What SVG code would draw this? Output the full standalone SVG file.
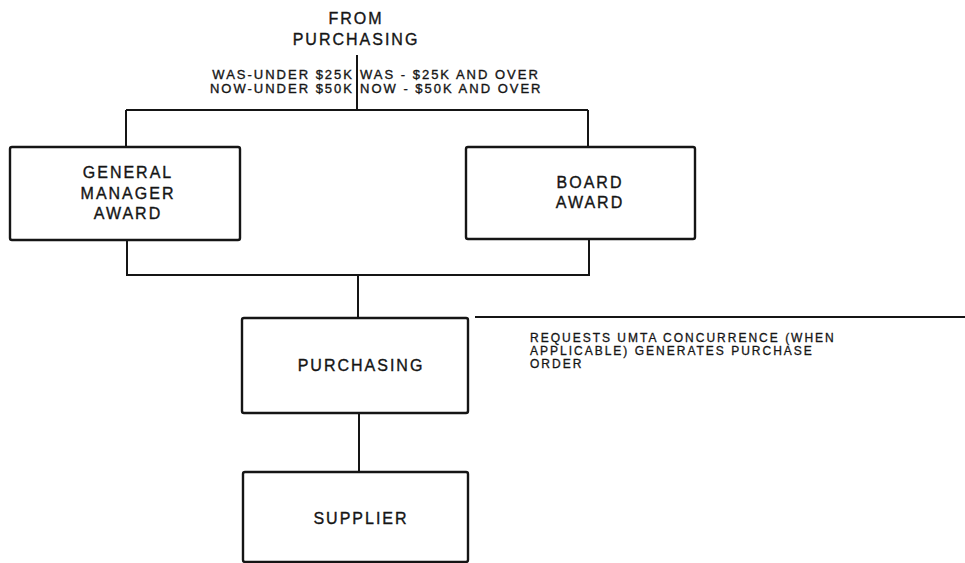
<svg xmlns="http://www.w3.org/2000/svg" width="965" height="563" viewBox="0 0 965 563">
<style>
.bg{fill:#ffffff}
.box{fill:#ffffff;stroke:#151515;stroke-width:2.4}
.ln{fill:none;stroke:#151515;stroke-width:2}
text{font-family:"Liberation Sans",Arial,sans-serif;fill:#151515;stroke:#151515;stroke-width:0.35}
.lbl{font-size:16px;letter-spacing:2px;text-anchor:middle}
.cond{font-size:13px;letter-spacing:2px}
.note{font-size:12px;letter-spacing:2px;stroke-width:0.3}
</style>
<rect class="bg" x="0" y="0" width="965" height="563"/>
<g id="connectors">
<path class="ln" d="M357 55 V110"/>
<path class="ln" d="M126 110 H588 M126 110 V147 M588 110 V147"/>
<path class="ln" d="M127 240 V275 H589 V239"/>
<path class="ln" d="M358 275 V318"/>
<path class="ln" d="M359 413 V472"/>
<path class="ln" d="M475 317 H965"/>
</g>
<g id="source">
<text class="lbl" x="356" y="24">FROM</text>
<text class="lbl" x="356" y="45">PURCHASING</text>
<text class="cond" x="354" y="79" text-anchor="end">WAS-UNDER $25K</text>
<text class="cond" x="354" y="93" text-anchor="end">NOW-UNDER $50K</text>
<text class="cond" x="360" y="79">WAS - $25K AND OVER</text>
<text class="cond" x="360" y="93">NOW - $50K AND OVER</text>
</g>
<g id="gm-award">
<rect class="box" x="10" y="147" width="230" height="93" rx="2"/>
<text class="lbl" x="128" y="178">GENERAL</text>
<text class="lbl" x="128" y="199">MANAGER</text>
<text class="lbl" x="128" y="219">AWARD</text>
</g>
<g id="board-award">
<rect class="box" x="466" y="147" width="229" height="92" rx="2"/>
<text class="lbl" x="590" y="188">BOARD</text>
<text class="lbl" x="590" y="208">AWARD</text>
</g>
<g id="purchasing">
<rect class="box" x="242" y="318" width="226" height="95" rx="2"/>
<text class="lbl" x="361" y="371">PURCHASING</text>
</g>
<g id="note">
<text class="note" x="530" y="342">REQUESTS UMTA CONCURRENCE (WHEN</text>
<text class="note" x="530" y="355">APPLICABLE) GENERATES PURCHASE</text>
<text class="note" x="530" y="368">ORDER</text>
</g>
<g id="supplier">
<rect class="box" x="243" y="472" width="225" height="90" rx="2"/>
<text class="lbl" x="361" y="524">SUPPLIER</text>
</g>
</svg>
